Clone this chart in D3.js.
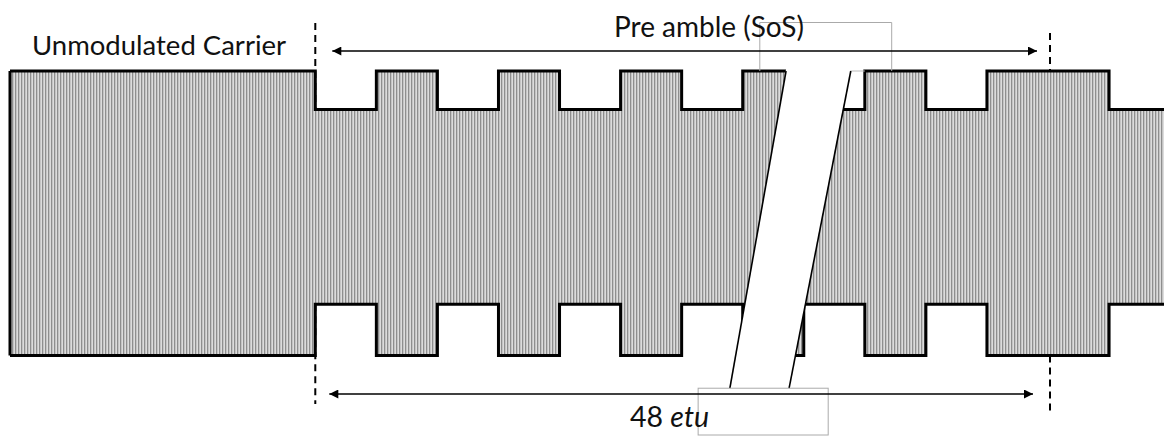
<!DOCTYPE html>
<html>
<head>
<meta charset="utf-8">
<script src="https://cdn.jsdelivr.net/npm/d3@7"></script>
<style>
  body { margin: 0; background: #fff; }
  text { font-family: Lato, "Open Sans", sans-serif; fill: #111; }
</style>
</head>
<body>
<div id="chart"></div>
<script>
// bit sequence after the unmodulated carrier (1 = full amplitude, 0 = modulated)
const bits = [0, 1, 0, 1, 0, 1, 0, 1, 0, 1, 0, 1, 1, 0]
const carrierStart = -5        // unmodulated carrier starts 5 etu before SoS
const preambleEnd = 12         // dashed marker on the right
const upperLevel = [0.73, 1]   // top envelope for bit 0 / bit 1
const lowerLevel = [-0.64, -1] // bottom envelope for bit 0 / bit 1
// the drawn gap in the time axis (x in etu, y in amplitude)
const breakLeft = [[7.71, 1], [6.79, -1.23]]
const breakRight = [[8.77, 1], [7.76, -1.23]]
const labels = { carrier: 'Unmodulated Carrier', preamble: 'Pre amble (SoS)', count: '48', unit: 'etu' }

const width = 1164, height = 436

const x = d3.scaleLinear().domain([carrierStart, preambleEnd]).range([10, 1048])
const y = d3.scaleLinear().domain([-1, 1]).range([355.5, 71])

const svg = d3.select('#chart').append('svg')
  .attr('width', width).attr('height', height)

const defs = svg.append('defs')
const pat = defs.append('pattern').attr('id', 'stripes')
  .attr('patternUnits', 'userSpaceOnUse').attr('width', 3).attr('height', 10)
pat.append('rect').attr('width', 3).attr('height', 10).attr('fill', '#dcdcdc')
pat.append('rect').attr('width', 1.3).attr('height', 10).attr('fill', '#8e8e8e')
defs.append('marker').attr('id', 'head')
  .attr('viewBox', '0 0 10 10').attr('refX', 10).attr('refY', 5)
  .attr('markerWidth', 12).attr('markerHeight', 9).attr('markerUnits', 'userSpaceOnUse')
  .attr('orient', 'auto-start-reverse')
  .append('path').attr('d', 'M0,0L10,5L0,10Z').attr('fill', '#000')

// envelope points
const topPts = [[carrierStart, 1], [0, 1]]
const botPts = [[carrierStart, -1], [0, -1]]
bits.forEach((b, i) => {
  topPts.push([i, upperLevel[b]], [i + 1, upperLevel[b]])
  botPts.push([i, lowerLevel[b]], [i + 1, lowerLevel[b]])
})
const line = d3.line().x(d => x(d[0])).y(d => y(d[1]))
const area = d3.area().x(d => x(d[0])).y0(d => y(d[2])).y1(d => y(d[1]))
const areaPts = topPts.map((d, i) => [d[0], d[1], botPts[i][1]])

svg.append('path').datum(areaPts).attr('d', area).attr('fill', 'url(#stripes)')

const outline = svg.append('g').attr('fill', 'none').attr('stroke', '#000')
  .attr('stroke-width', 3).attr('stroke-linejoin', 'miter')
outline.append('path').datum(topPts).attr('d', line)
outline.append('path').datum(botPts).attr('d', line)
outline.append('line')
  .attr('x1', x(carrierStart)).attr('x2', x(carrierStart))
  .attr('y1', y(1)).attr('y2', y(-1))

// gap in the time axis
const gap = [
  [x(breakLeft[0][0]), y(breakLeft[0][1]) - 2],
  [x(breakRight[0][0]), y(breakRight[0][1]) - 2],
  [x(breakRight[1][0]), y(breakRight[1][1])],
  [x(breakLeft[1][0]), y(breakLeft[1][1])]
]
svg.append('polygon').attr('points', gap.join(' ')).attr('fill', '#fff')
svg.append('line')
  .attr('x1', x(breakRight[0][0])).attr('x2', x(9))
  .attr('y1', y(1)).attr('y2', y(1))
  .attr('stroke', '#bbb').attr('stroke-width', 1)
;[breakLeft, breakRight].forEach(l => {
  svg.append('line')
    .attr('x1', x(l[0][0])).attr('y1', y(l[0][1]))
    .attr('x2', x(l[1][0])).attr('y2', y(l[1][1]))
    .attr('stroke', '#000').attr('stroke-width', 1.6)
})

// light boxes left over around the labels
svg.append('path')
  .attr('d', `M${x(7.28)},${y(1)}V22.5H${x(9.44)}V${y(1)}`)
  .attr('fill', 'none').attr('stroke', '#aaa').attr('stroke-width', 1)
svg.append('rect')
  .attr('x', x(6.27)).attr('y', y(-1.23))
  .attr('width', x(8.4) - x(6.27)).attr('height', 435 - y(-1.23))
  .attr('fill', 'none').attr('stroke', '#aaa').attr('stroke-width', 1)

// dashed markers
const dash = svg.append('g').attr('stroke', '#000').attr('stroke-width', 2)
  .attr('stroke-dasharray', '7,5')
dash.append('line').attr('x1', x(0)).attr('x2', x(0)).attr('y1', 23).attr('y2', y(upperLevel[0]))
dash.append('line').attr('x1', x(0)).attr('x2', x(0)).attr('y1', y(lowerLevel[0])).attr('y2', 404)
dash.append('line').attr('x1', x(preambleEnd) + 2).attr('x2', x(preambleEnd) + 2).attr('y1', 33).attr('y2', y(1))
dash.append('line').attr('x1', x(preambleEnd) + 2).attr('x2', x(preambleEnd) + 2).attr('y1', y(-1)).attr('y2', 412)

// span arrows
const arrows = svg.append('g').attr('stroke', '#000').attr('stroke-width', 1.6)
arrows.append('line').attr('x1', x(0) + 17).attr('x2', x(preambleEnd) - 11)
  .attr('y1', 51).attr('y2', 51)
  .attr('marker-start', 'url(#head)').attr('marker-end', 'url(#head)')
arrows.append('line').attr('x1', x(0) + 14).attr('x2', x(preambleEnd) - 15)
  .attr('y1', 394).attr('y2', 394)
  .attr('marker-start', 'url(#head)').attr('marker-end', 'url(#head)')

// labels
svg.append('text').attr('x', 32).attr('y', 55).attr('font-size', 27.5).text(labels.carrier)
svg.append('text').attr('x', 709).attr('y', 37).attr('font-size', 28)
  .attr('text-anchor', 'middle').text(labels.preamble)
const cnt = svg.append('text').attr('x', 630).attr('y', 427).attr('font-size', 28.5)
cnt.append('tspan').text(labels.count + ' ')
cnt.append('tspan').attr('font-style', 'italic').text(labels.unit)
</script>
</body>
</html>
